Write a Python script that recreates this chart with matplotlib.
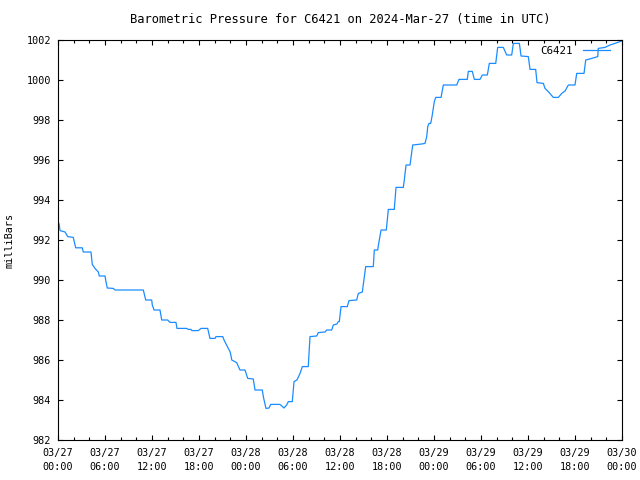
import matplotlib
matplotlib.use("Agg")
import matplotlib.pyplot as plt
from matplotlib.ticker import MultipleLocator

# hours since 2024-03-27 00:00 UTC and pressure in mb
hours = [0.0, 0.13, 0.26, 0.9, 1.24, 1.95, 2.26, 3.1, 3.23, 4.21, 4.38, 4.72, 5.15, 5.27, 6.0,
         6.13, 6.29, 7.06, 7.28, 10.89, 11.2, 11.96, 12.04, 12.26, 13.02, 13.24, 14.0, 14.3,
         15.06, 15.19, 16.43, 16.63, 16.98, 17.1, 17.91, 18.26, 19.11, 19.4, 20.04, 20.17,
         21.03, 21.23, 21.45, 21.74, 21.96, 22.09, 22.18, 22.81, 23.23, 23.87, 24.22, 24.93,
         25.15, 26.08, 26.21, 26.55, 26.94, 27.15, 28.34, 28.85, 29.19, 29.4, 29.91, 30.13,
         30.5, 30.9, 31.19, 31.95, 32.17, 33.03, 33.23, 34.09, 34.3, 34.94, 35.15, 35.6,
         35.78, 35.91, 36.13, 36.93, 37.15, 38.13, 38.34, 38.85, 39.28, 40.25, 40.38, 40.81,
         40.94, 41.24, 41.91, 42.17, 42.93, 43.15, 44.08, 44.21, 44.43, 44.94, 45.28, 46.43,
         46.85, 47.07, 47.2, 47.36, 47.58, 47.78, 48.04, 48.22, 48.9, 49.19, 50.9, 51.19,
         52.25, 52.38, 52.89, 53.15, 53.87, 54.17, 54.81, 55.06, 55.88, 56.13, 56.85, 57.0,
         57.28, 57.92, 58.13, 58.9, 59.11, 60.04, 60.26, 60.98, 61.15, 61.96, 62.17, 62.59,
         63.03, 63.23, 63.87, 64.31, 64.73, 65.15, 66.0, 66.22, 67.15, 67.37, 68.13, 68.9,
         68.97, 69.83, 70.47, 71.1, 71.96]
pressure = [992.85, 992.83, 992.47, 992.4, 992.17, 992.13, 991.61, 991.61, 991.4, 991.4, 990.78,
            990.58, 990.4, 990.2, 990.2, 989.9, 989.6, 989.58, 989.5, 989.5, 989.0, 989.0, 988.75,
            988.5, 988.5, 988.0, 988.0, 987.88, 987.88, 987.58, 987.58, 987.53, 987.53, 987.47,
            987.47, 987.58, 987.58, 987.08, 987.08, 987.17, 987.17, 986.97, 986.8, 986.58, 986.42,
            986.2, 986.0, 985.87, 985.5, 985.5, 985.08, 985.05, 984.5, 984.5, 984.17, 983.58,
            983.6, 983.78, 983.78, 983.6, 983.75, 983.92, 983.92, 984.92, 985.0, 985.33, 985.67,
            985.67, 987.17, 987.2, 987.37, 987.4, 987.5, 987.5, 987.75, 987.8, 987.92, 987.92,
            988.67, 988.67, 988.97, 989.0, 989.33, 989.4, 990.67, 990.67, 991.5, 991.5, 991.83,
            992.5, 992.5, 993.53, 993.53, 994.63, 994.63, 995.0, 995.75, 995.75, 996.75, 996.8,
            996.83, 997.17, 997.67, 997.83, 997.83, 998.25, 998.92, 999.13, 999.13, 999.75,
            999.75, 1000.03, 1000.03, 1000.43, 1000.43, 1000.03, 1000.03, 1000.25, 1000.25,
            1000.83, 1000.83, 1001.63, 1001.63, 1001.5, 1001.25, 1001.25, 1001.83, 1001.83,
            1001.2, 1001.17, 1000.53, 1000.53, 999.87, 999.83, 999.58, 999.42, 999.22, 999.13,
            999.13, 999.33, 999.45, 999.75, 999.75, 1000.33, 1000.33, 1001.0, 1001.08, 1001.17,
            1001.58, 1001.63, 1001.75, 1001.83, 1001.95]

tick_hours = [0, 6, 12, 18, 24, 30, 36, 42, 48, 54, 60, 66, 72]
tick_labels = ["03/27\n00:00", "03/27\n06:00", "03/27\n12:00", "03/27\n18:00",
               "03/28\n00:00", "03/28\n06:00", "03/28\n12:00", "03/28\n18:00",
               "03/29\n00:00", "03/29\n06:00", "03/29\n12:00", "03/29\n18:00",
               "03/30\n00:00"]

plt.rcParams['font.family'] = ['DejaVu Sans Mono']
plt.rcParams['font.size'] = 7.3

fig = plt.figure(figsize=(6.4, 4.8), dpi=100)
ax = fig.add_axes([58 / 640, 1 - 440 / 480, 564 / 640, 400 / 480])

ax.plot(hours, pressure, color='#1a8cff', lw=0.9, label='C6421')

ax.set_xlim(0, 72)
ax.set_ylim(982, 1002)
ax.set_xticks(tick_hours)
ax.set_xticklabels(tick_labels, linespacing=1.45)
ax.xaxis.set_minor_locator(MultipleLocator(2))
ax.yaxis.set_major_locator(MultipleLocator(2))
ax.tick_params(which='both', direction='in', top=True, right=True, width=0.8, colors='black')
ax.tick_params(which='major', length=3.6)
ax.tick_params(which='minor', length=2)
ax.tick_params(axis='x', which='major', pad=6)
ax.tick_params(axis='y', which='major', pad=5)
for s in ax.spines.values():
    s.set_linewidth(0.8)

ax.set_title("Barometric Pressure for C6421 on 2024-Mar-27 (time in UTC)", pad=12)
fig.text(10 / 640, 0.5, "milliBars", rotation=90, ha='center', va='center')

ax.legend(loc='upper right', bbox_to_anchor=(1 - 4 / 564, 1 + 2 / 400), frameon=False,
          markerfirst=False, handlelength=2.5, borderaxespad=0.3, handletextpad=1.0,
          fontsize=7.8)

fig.savefig("out.png", dpi=100)
